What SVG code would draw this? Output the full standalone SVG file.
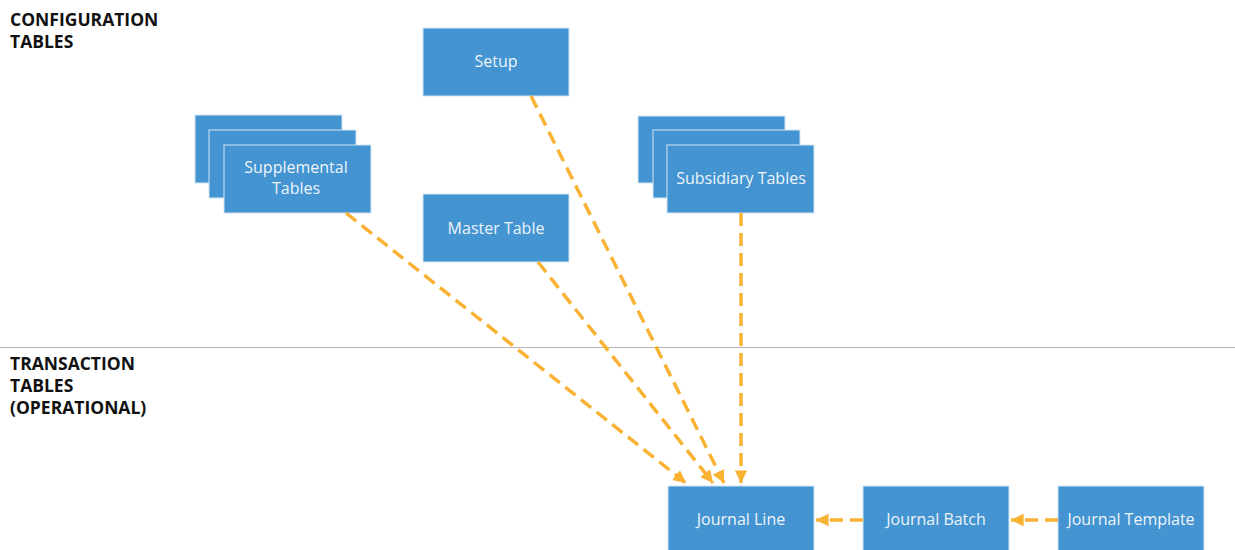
<svg xmlns="http://www.w3.org/2000/svg" width="1235" height="550" viewBox="0 0 1235 550">
  <defs>
    <marker id="arrow" viewBox="0 0 10 10" refX="10" refY="5" markerWidth="3.6" markerHeight="3.6" orient="auto" markerUnits="strokeWidth">
      <path d="M0,0 L10,5 L0,10 Z" fill="#F9B234"/>
    </marker>
  </defs>
  <style>
    .box { fill: #4394D1; stroke: #D4E6F5; stroke-width: 1; }
    .label { font-family: "Open Sans", "Noto Sans", sans-serif; font-size: 16px; fill: #EEF4FA; text-anchor: middle; }
    .head { font-family: "Open Sans", "Noto Sans", sans-serif; font-size: 17.5px; font-weight: bold; fill: #111; }
    .link { fill: none; stroke: #F9B234; stroke-width: 3.5; stroke-dasharray: 13 7; marker-end: url(#arrow); }
    .divider { stroke: #B4B4B4; stroke-width: 1; }
  </style>
  <rect width="1235" height="550" fill="#FFFFFF"/>

  <!-- section headings -->
  <text class="head" x="10" y="26">CONFIGURATION</text>
  <text class="head" x="10" y="48">TABLES</text>
  <line class="divider" x1="0" y1="347.5" x2="1235" y2="347.5"/>
  <text class="head" x="10" y="370">TRANSACTION</text>
  <text class="head" x="10" y="392">TABLES</text>
  <text class="head" x="10" y="414">(OPERATIONAL)</text>

  <!-- nodes -->
  <g id="setup">
    <rect class="box" x="423" y="28" width="146" height="68"/>
    <text class="label" x="496" y="67">Setup</text>
  </g>
  <g id="supplemental-tables">
    <rect class="box" x="195" y="115" width="147" height="68"/>
    <rect class="box" x="209" y="130" width="147" height="68"/>
    <rect class="box" x="224" y="145" width="147" height="68"/>
    <text class="label" x="296" y="173">Supplemental</text>
    <text class="label" x="296" y="194">Tables</text>
  </g>
  <g id="master-table">
    <rect class="box" x="423" y="194" width="146" height="68"/>
    <text class="label" x="496" y="234">Master Table</text>
  </g>
  <g id="subsidiary-tables">
    <rect class="box" x="638" y="116" width="147" height="67"/>
    <rect class="box" x="653" y="130" width="147" height="68"/>
    <rect class="box" x="667" y="145" width="147" height="68"/>
    <text class="label" x="741" y="184">Subsidiary Tables</text>
  </g>
  <g id="journal-line">
    <rect class="box" x="668" y="486" width="146" height="68"/>
    <text class="label" x="741" y="525">Journal Line</text>
  </g>
  <g id="journal-batch">
    <rect class="box" x="863" y="486" width="146" height="68"/>
    <text class="label" x="936" y="525">Journal Batch</text>
  </g>
  <g id="journal-template">
    <rect class="box" x="1058" y="486" width="146" height="68"/>
    <text class="label" x="1131" y="525">Journal Template</text>
  </g>

  <!-- connectors -->
  <g id="connectors">
    <line class="link" x1="346" y1="213" x2="686" y2="483"/>
    <line class="link" x1="538" y1="262" x2="713" y2="483"/>
    <line class="link" x1="531" y1="96" x2="724" y2="483"/>
    <line class="link" x1="741" y1="213" x2="741" y2="483"/>
    <line class="link" x1="863" y1="520" x2="816" y2="520"/>
    <line class="link" x1="1058" y1="520" x2="1011" y2="520"/>
  </g>
</svg>
